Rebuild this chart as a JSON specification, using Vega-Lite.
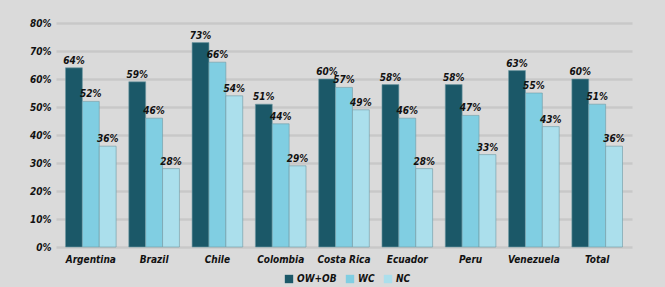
{
  "$schema": "https://vega.github.io/schema/vega-lite/v6.json",
  "width": 576,
  "height": 224,
  "autosize": {"type": "none"},
  "padding": {"left": 56, "top": 23, "right": 33, "bottom": 40},
  "background": "#dadada",
  "config": {
    "view": {"stroke": null},
    "font": "DejaVu Sans Condensed, Liberation Sans Narrow, Liberation Sans, sans-serif"
  },
  "data": {
    "values": [
      {"country": "Argentina", "group": "OW+OB", "value": 0.64},
      {"country": "Argentina", "group": "WC", "value": 0.52},
      {"country": "Argentina", "group": "NC", "value": 0.36},
      {"country": "Brazil", "group": "OW+OB", "value": 0.59},
      {"country": "Brazil", "group": "WC", "value": 0.46},
      {"country": "Brazil", "group": "NC", "value": 0.28},
      {"country": "Chile", "group": "OW+OB", "value": 0.73},
      {"country": "Chile", "group": "WC", "value": 0.66},
      {"country": "Chile", "group": "NC", "value": 0.54},
      {"country": "Colombia", "group": "OW+OB", "value": 0.51},
      {"country": "Colombia", "group": "WC", "value": 0.44},
      {"country": "Colombia", "group": "NC", "value": 0.29},
      {"country": "Costa Rica", "group": "OW+OB", "value": 0.60},
      {"country": "Costa Rica", "group": "WC", "value": 0.57},
      {"country": "Costa Rica", "group": "NC", "value": 0.49},
      {"country": "Ecuador", "group": "OW+OB", "value": 0.58},
      {"country": "Ecuador", "group": "WC", "value": 0.46},
      {"country": "Ecuador", "group": "NC", "value": 0.28},
      {"country": "Peru", "group": "OW+OB", "value": 0.58},
      {"country": "Peru", "group": "WC", "value": 0.47},
      {"country": "Peru", "group": "NC", "value": 0.33},
      {"country": "Venezuela", "group": "OW+OB", "value": 0.63},
      {"country": "Venezuela", "group": "WC", "value": 0.55},
      {"country": "Venezuela", "group": "NC", "value": 0.43},
      {"country": "Total", "group": "OW+OB", "value": 0.60},
      {"country": "Total", "group": "WC", "value": 0.51},
      {"country": "Total", "group": "NC", "value": 0.36}
    ]
  },
  "encoding": {
    "x": {
      "field": "country", "type": "nominal", "sort": null,
      "scale": {"paddingInner": 0.2, "paddingOuter": 0.15},
      "axis": {
        "title": null, "labelAngle": 0, "domain": false, "ticks": false,
        "labelPadding": 7, "labelFontSize": 10, "labelFontWeight": "bold",
        "labelFontStyle": "italic", "labelColor": "#111111"
      }
    },
    "xOffset": {"field": "group", "type": "nominal", "sort": ["OW+OB", "WC", "NC"]},
    "y": {
      "field": "value", "type": "quantitative",
      "scale": {"domain": [0, 0.8], "nice": false},
      "axis": {
        "title": null, "format": ".0%", "values": [0, 0.1, 0.2, 0.3, 0.4, 0.5, 0.6, 0.7, 0.8],
        "labelOverlap": false,
        "domain": false, "ticks": false, "labelPadding": 5,
        "labelFontSize": 10, "labelFontWeight": "bold", "labelFontStyle": "italic",
        "labelColor": "#111111", "gridColor": "#c8c8c8", "gridWidth": 2.5
      }
    }
  },
  "layer": [
    {
      "mark": {"type": "bar", "stroke": "#6f9aa3", "strokeWidth": 1, "strokeOpacity": 0.6},
      "encoding": {
        "color": {
          "field": "group", "type": "nominal",
          "scale": {"domain": ["OW+OB", "WC", "NC"], "range": ["#1b5868", "#80cee2", "#abdfec"]},
          "legend": {
            "title": null, "orient": "none", "direction": "horizontal",
            "legendX": 228, "legendY": 251,
            "symbolType": "square", "symbolSize": 70, "symbolStrokeWidth": 0,
            "labelFontSize": 10, "labelFontWeight": "bold", "labelFontStyle": "italic",
            "labelColor": "#111111", "columnPadding": 8, "labelOffset": 3
          }
        }
      }
    },
    {
      "mark": {"type": "text", "dy": -7, "fontSize": 10, "fontWeight": "bold", "fontStyle": "italic", "color": "#111111"},
      "encoding": {
        "text": {"field": "value", "type": "quantitative", "format": ".0%"}
      }
    }
  ]
}
